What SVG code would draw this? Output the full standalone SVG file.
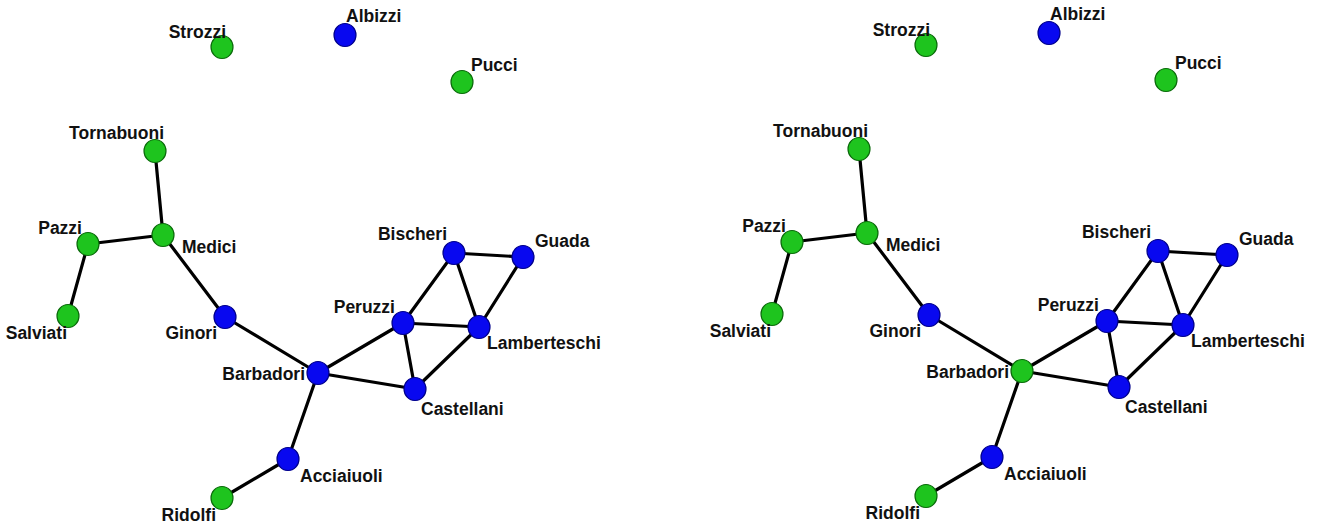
<svg xmlns="http://www.w3.org/2000/svg" width="1317" height="524" viewBox="0 0 1317 524">
<style>
.e{stroke:#000;stroke-width:3.2;fill:none;stroke-linecap:round}
.g{fill:#1ec41e;stroke:#0b6a0b;stroke-width:1.2}
.b{fill:#0808f0;stroke:#00008a;stroke-width:1.2}
text{font-family:"Liberation Sans",Arial,sans-serif;font-weight:bold;font-size:17.5px;fill:#111}
.r{text-anchor:end}
</style>
<rect width="1317" height="524" fill="#fff"/>
<g id="left-panel">
<g id="L-edges">
<line class="e" x1="155" y1="151" x2="163" y2="235"/>
<line class="e" x1="88" y1="244" x2="163" y2="235"/>
<line class="e" x1="88" y1="244" x2="68" y2="316"/>
<line class="e" x1="163" y1="235" x2="225" y2="317"/>
<line class="e" x1="225" y1="317" x2="318" y2="373"/>
<line class="e" x1="318" y1="373" x2="403" y2="323"/>
<line class="e" x1="318" y1="373" x2="415" y2="389"/>
<line class="e" x1="318" y1="373" x2="288" y2="459"/>
<line class="e" x1="288" y1="459" x2="222" y2="498"/>
<line class="e" x1="454" y1="253" x2="523" y2="257"/>
<line class="e" x1="454" y1="253" x2="403" y2="323"/>
<line class="e" x1="454" y1="253" x2="479" y2="327"/>
<line class="e" x1="523" y1="257" x2="479" y2="327"/>
<line class="e" x1="403" y1="323" x2="479" y2="327"/>
<line class="e" x1="403" y1="323" x2="415" y2="389"/>
<line class="e" x1="415" y1="389" x2="479" y2="327"/>
</g>
<g id="L-Strozzi"><ellipse class="g" cx="222" cy="47" rx="11" ry="11.5"/><text class="r" x="226" y="38">Strozzi</text></g>
<g id="L-Albizzi"><ellipse class="b" cx="345" cy="35" rx="11" ry="11.5"/><text x="346" y="22">Albizzi</text></g>
<g id="L-Pucci"><ellipse class="g" cx="462" cy="82" rx="11" ry="11.5"/><text x="471" y="71">Pucci</text></g>
<g id="L-Tornabuoni"><ellipse class="g" cx="155" cy="151" rx="11" ry="11.5"/><text class="r" x="164" y="139">Tornabuoni</text></g>
<g id="L-Pazzi"><ellipse class="g" cx="88" cy="244" rx="11" ry="11.5"/><text class="r" x="82" y="234">Pazzi</text></g>
<g id="L-Medici"><ellipse class="g" cx="163" cy="235" rx="11" ry="11.5"/><text x="182" y="253">Medici</text></g>
<g id="L-Salviati"><ellipse class="g" cx="68" cy="316" rx="11" ry="11.5"/><text class="r" x="67" y="339">Salviati</text></g>
<g id="L-Ginori"><ellipse class="b" cx="225" cy="317" rx="11" ry="11.5"/><text class="r" x="217" y="339">Ginori</text></g>
<g id="L-Barbadori"><ellipse class="b" cx="318" cy="373" rx="11" ry="11.5"/><text class="r" x="305" y="380">Barbadori</text></g>
<g id="L-Acciaiuoli"><ellipse class="b" cx="288" cy="459" rx="11" ry="11.5"/><text x="300" y="482">Acciaiuoli</text></g>
<g id="L-Ridolfi"><ellipse class="g" cx="222" cy="498" rx="11" ry="11.5"/><text class="r" x="216" y="521">Ridolfi</text></g>
<g id="L-Bischeri"><ellipse class="b" cx="454" cy="253" rx="11" ry="11.5"/><text class="r" x="447" y="240">Bischeri</text></g>
<g id="L-Guada"><ellipse class="b" cx="523" cy="257" rx="11" ry="11.5"/><text x="535" y="247">Guada</text></g>
<g id="L-Peruzzi"><ellipse class="b" cx="403" cy="323" rx="11" ry="11.5"/><text class="r" x="395" y="313">Peruzzi</text></g>
<g id="L-Lamberteschi"><ellipse class="b" cx="479" cy="327" rx="11" ry="11.5"/><text x="487" y="349">Lamberteschi</text></g>
<g id="L-Castellani"><ellipse class="b" cx="415" cy="389" rx="11" ry="11.5"/><text x="421" y="415">Castellani</text></g>
</g>
<g id="right-panel" transform="translate(704,-2)">
<g id="R-edges">
<line class="e" x1="155" y1="151" x2="163" y2="235"/>
<line class="e" x1="88" y1="244" x2="163" y2="235"/>
<line class="e" x1="88" y1="244" x2="68" y2="316"/>
<line class="e" x1="163" y1="235" x2="225" y2="317"/>
<line class="e" x1="225" y1="317" x2="318" y2="373"/>
<line class="e" x1="318" y1="373" x2="403" y2="323"/>
<line class="e" x1="318" y1="373" x2="415" y2="389"/>
<line class="e" x1="318" y1="373" x2="288" y2="459"/>
<line class="e" x1="288" y1="459" x2="222" y2="498"/>
<line class="e" x1="454" y1="253" x2="523" y2="257"/>
<line class="e" x1="454" y1="253" x2="403" y2="323"/>
<line class="e" x1="454" y1="253" x2="479" y2="327"/>
<line class="e" x1="523" y1="257" x2="479" y2="327"/>
<line class="e" x1="403" y1="323" x2="479" y2="327"/>
<line class="e" x1="403" y1="323" x2="415" y2="389"/>
<line class="e" x1="415" y1="389" x2="479" y2="327"/>
</g>
<g id="R-Strozzi"><ellipse class="g" cx="222" cy="47" rx="11" ry="11.5"/><text class="r" x="226" y="38">Strozzi</text></g>
<g id="R-Albizzi"><ellipse class="b" cx="345" cy="35" rx="11" ry="11.5"/><text x="346" y="22">Albizzi</text></g>
<g id="R-Pucci"><ellipse class="g" cx="462" cy="82" rx="11" ry="11.5"/><text x="471" y="71">Pucci</text></g>
<g id="R-Tornabuoni"><ellipse class="g" cx="155" cy="151" rx="11" ry="11.5"/><text class="r" x="164" y="139">Tornabuoni</text></g>
<g id="R-Pazzi"><ellipse class="g" cx="88" cy="244" rx="11" ry="11.5"/><text class="r" x="82" y="234">Pazzi</text></g>
<g id="R-Medici"><ellipse class="g" cx="163" cy="235" rx="11" ry="11.5"/><text x="182" y="253">Medici</text></g>
<g id="R-Salviati"><ellipse class="g" cx="68" cy="316" rx="11" ry="11.5"/><text class="r" x="67" y="339">Salviati</text></g>
<g id="R-Ginori"><ellipse class="b" cx="225" cy="317" rx="11" ry="11.5"/><text class="r" x="217" y="339">Ginori</text></g>
<g id="R-Barbadori"><ellipse class="g" cx="318" cy="373" rx="11" ry="11.5"/><text class="r" x="305" y="380">Barbadori</text></g>
<g id="R-Acciaiuoli"><ellipse class="b" cx="288" cy="459" rx="11" ry="11.5"/><text x="300" y="482">Acciaiuoli</text></g>
<g id="R-Ridolfi"><ellipse class="g" cx="222" cy="498" rx="11" ry="11.5"/><text class="r" x="216" y="521">Ridolfi</text></g>
<g id="R-Bischeri"><ellipse class="b" cx="454" cy="253" rx="11" ry="11.5"/><text class="r" x="447" y="240">Bischeri</text></g>
<g id="R-Guada"><ellipse class="b" cx="523" cy="257" rx="11" ry="11.5"/><text x="535" y="247">Guada</text></g>
<g id="R-Peruzzi"><ellipse class="b" cx="403" cy="323" rx="11" ry="11.5"/><text class="r" x="395" y="313">Peruzzi</text></g>
<g id="R-Lamberteschi"><ellipse class="b" cx="479" cy="327" rx="11" ry="11.5"/><text x="487" y="349">Lamberteschi</text></g>
<g id="R-Castellani"><ellipse class="b" cx="415" cy="389" rx="11" ry="11.5"/><text x="421" y="415">Castellani</text></g>
</g>
</svg>
